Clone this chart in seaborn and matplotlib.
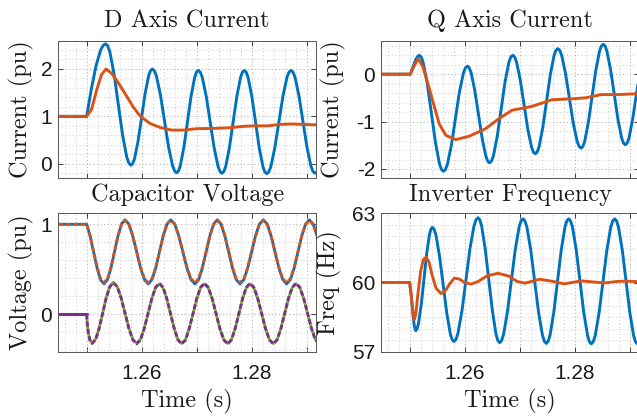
import matplotlib
matplotlib.use("Agg")
import matplotlib.pyplot as plt
import seaborn as sns
import numpy as np
from matplotlib.ticker import FixedLocator, FixedFormatter, MultipleLocator

# ------------------------------------------------------------------ data
T_MIN, T_MAX = 1.24484, 1.29169
x_tick_pos = [1.25, 1.26, 1.27, 1.28, 1.29]
x_tick_labels = ["", "1.26", "", "1.28", ""]

titles = ["D Axis Current", "Q Axis Current", "Capacitor Voltage", "Inverter Frequency"]
ylabels = ["Current (pu)", "Current (pu)", "Voltage (pu)", "Freq (Hz)"]
xlabel = "Time (s)"

d_yticks, d_yticklabels = [0, 1, 2], ["0", "1", "2"]
q_yticks, q_yticklabels = [-2, -1, 0], ["-2", "-1", "0"]
v_yticks, v_yticklabels = [0, 1], ["0", "1"]
f_yticks, f_yticklabels = [57, 60, 63], ["57", "60", "63"]

# D axis current
d_blue_t = [1.24484, 1.25000, 1.25086, 1.25173, 1.25259, 1.25302,
            1.25345, 1.25383, 1.25422, 1.25498, 1.25575, 1.25652, 1.25728, 1.25767,
            1.25805, 1.25837, 1.25870, 1.25934, 1.25999, 1.26064, 1.26128, 1.26161,
            1.26193, 1.26230, 1.26267, 1.26341, 1.26415, 1.26488, 1.26562, 1.26599,
            1.26636, 1.26669, 1.26702, 1.26767, 1.26833, 1.26898, 1.26964, 1.26996,
            1.27029, 1.27065, 1.27101, 1.27173, 1.27245, 1.27316, 1.27388, 1.27424,
            1.27460, 1.27494, 1.27528, 1.27595, 1.27663, 1.27731, 1.27798, 1.27832,
            1.27866, 1.27900, 1.27934, 1.28002, 1.28070, 1.28137, 1.28205, 1.28239,
            1.28273, 1.28310, 1.28347, 1.28420, 1.28494, 1.28568, 1.28641, 1.28678,
            1.28715, 1.28751, 1.28788, 1.28860, 1.28933, 1.29006, 1.29078, 1.29115,
            1.29151, 1.29200]
d_blue_v = [1.00, 1.00, 1.586, 2.082, 2.414, 2.50,
            2.53, 2.486, 2.358, 1.89, 1.25, 0.61, 0.142, 0.014,
            -0.03, 0.005, 0.106, 0.478, 0.985, 1.493, 1.864, 1.965,
            2.00, 1.963, 1.853, 1.453, 0.905, 0.358, -0.043, -0.153,
            -0.19, -0.153, -0.045, 0.35, 0.89, 1.43, 1.825, 1.933,
            1.97, 1.933, 1.825, 1.428, 0.885, 0.343, -0.055, -0.163,
            -0.20, -0.163, -0.055, 0.343, 0.885, 1.428, 1.825, 1.933,
            1.97, 1.933, 1.824, 1.425, 0.88, 0.335, -0.064, -0.173,
            -0.21, -0.173, -0.064, 0.335, 0.88, 1.425, 1.824, 1.933,
            1.97, 1.933, 1.825, 1.428, 0.885, 0.343, -0.055, -0.163,
            -0.20, -0.17]
d_red_t = [1.24484, 1.2500, 1.2509, 1.2518, 1.2527, 1.2535,
           1.2545, 1.2555, 1.2565, 1.2575, 1.2585,
           1.2597, 1.2615, 1.2635, 1.2655, 1.2675,
           1.2700, 1.2730, 1.2760, 1.2785, 1.2805,
           1.2830, 1.2850, 1.2872, 1.2895, 1.2920]
d_red_v = [1.00, 1.00, 1.15, 1.55, 1.88, 2.00,
           1.91, 1.75, 1.57, 1.38, 1.19,
           1.01, 0.85, 0.76, 0.71, 0.71,
           0.74, 0.745, 0.76, 0.79, 0.80,
           0.80, 0.83, 0.84, 0.83, 0.82]

# Q axis current
q_blue_t = [1.24484, 1.2501, 1.2506, 1.2511, 1.2515,
            1.25175, 1.25212, 1.25248, 1.25321, 1.25395, 1.25468, 1.25541, 1.25577,
            1.25614, 1.25650, 1.25686, 1.25759, 1.25831, 1.25903, 1.25976, 1.26012,
            1.26048, 1.26082, 1.26116, 1.26183, 1.26251, 1.26318, 1.26386, 1.26419,
            1.26453, 1.26488, 1.26523, 1.26593, 1.26663, 1.26733, 1.26803, 1.26838,
            1.26873, 1.26907, 1.26942, 1.27010, 1.27079, 1.27147, 1.27216, 1.27250,
            1.27284, 1.27318, 1.27352, 1.27420, 1.27488, 1.27556, 1.27624, 1.27658,
            1.27692, 1.27727, 1.27763, 1.27833, 1.27904, 1.27974, 1.28045, 1.28080,
            1.28115, 1.28149, 1.28182, 1.28249, 1.28317, 1.28384, 1.28451, 1.28484,
            1.28518, 1.28552, 1.28585, 1.28652, 1.28720, 1.28787, 1.28854, 1.28887,
            1.28921, 1.28955, 1.28988, 1.29055, 1.29122, 1.29180]
q_blue_v = [0.0, 0.0, 0.15, 0.31, 0.38,
            0.40, 0.358, 0.236, -0.213, -0.825, -1.438, -1.886, -2.008,
            -2.05, -2.012, -1.901, -1.495, -0.94, -0.385, 0.021, 0.132,
            0.17, 0.135, 0.033, -0.34, -0.85, -1.36, -1.733, -1.835,
            -1.87, -1.831, -1.718, -1.303, -0.735, -0.168, 0.248, 0.361,
            0.40, 0.365, 0.261, -0.12, -0.64, -1.16, -1.541, -1.645,
            -1.68, -1.642, -1.531, -1.125, -0.57, -0.015, 0.391, 0.502,
            0.54, 0.504, 0.399, 0.015, -0.51, -1.035, -1.419, -1.524,
            -1.56, -1.523, -1.413, -1.013, -0.465, 0.083, 0.483, 0.593,
            0.63, 0.594, 0.488, 0.10, -0.43, -0.96, -1.348, -1.454,
            -1.49, -1.452, -1.343, -0.94, -0.42, 0.0]
q_red_t = [1.24484, 1.2501, 1.2508, 1.25157, 1.25242, 1.25332, 1.25416,
           1.25537, 1.25658, 1.25838, 1.26079, 1.26380, 1.26621, 1.26861,
           1.27222, 1.27584, 1.27945, 1.28190, 1.28487, 1.28790, 1.29180]
q_red_v = [0.0, 0.0, 0.17, 0.33, 0.15, -0.20, -0.55,
           -1.05, -1.29, -1.38, -1.31, -1.15, -0.94, -0.76,
           -0.68, -0.54, -0.52, -0.50, -0.43, -0.43, -0.41]

# Capacitor voltage (blue solid / orange dashed share times)
cv_t1 = [1.24484, 1.25000, 1.25063, 1.25126, 1.25189, 1.25252,
         1.25315, 1.25379, 1.25442, 1.25506, 1.25569, 1.25633,
         1.25696, 1.25767, 1.25837, 1.25908, 1.25979, 1.26049,
         1.26120, 1.26188, 1.26256, 1.26324, 1.26391, 1.26459,
         1.26527, 1.26601, 1.26674, 1.26748, 1.26822, 1.26895,
         1.26969, 1.27037, 1.27104, 1.27172, 1.27240, 1.27307,
         1.27375, 1.27444, 1.27512, 1.27581, 1.27650, 1.27718,
         1.27787, 1.27858, 1.27928, 1.27999, 1.28070, 1.28140,
         1.28211, 1.28282, 1.28352, 1.28423, 1.28494, 1.28564,
         1.28635, 1.28704, 1.28773, 1.28842, 1.28910, 1.28979,
         1.29048, 1.29118, 1.29188]
cv_blue_v = [1.0, 1.0, 0.868, 0.69, 0.513, 0.383,
             0.337, 0.385, 0.515, 0.694, 0.872, 1.002,
             1.05, 1.002, 0.872, 0.694, 0.515, 0.385,
             0.337, 0.385, 0.515, 0.694, 0.872, 1.002,
             1.05, 1.002, 0.872, 0.694, 0.515, 0.385,
             0.337, 0.385, 0.515, 0.694, 0.872, 1.002,
             1.05, 1.002, 0.872, 0.694, 0.515, 0.385,
             0.337, 0.385, 0.515, 0.694, 0.872, 1.002,
             1.05, 1.002, 0.872, 0.694, 0.515, 0.385,
             0.337, 0.385, 0.515, 0.694, 0.872, 1.002,
             1.05, 1.002, 0.872]
cv_orange_v = [1.0, 1.0, 0.87, 0.698, 0.525, 0.395,
               0.35, 0.397, 0.524, 0.698, 0.871, 0.998,
               1.045, 0.998, 0.871, 0.698, 0.524, 0.397,
               0.35, 0.397, 0.524, 0.698, 0.871, 0.998,
               1.045, 0.998, 0.871, 0.698, 0.524, 0.397,
               0.35, 0.397, 0.524, 0.698, 0.871, 0.998,
               1.045, 0.998, 0.871, 0.698, 0.524, 0.397,
               0.35, 0.397, 0.524, 0.698, 0.871, 0.998,
               1.045, 0.998, 0.871, 0.698, 0.524, 0.397,
               0.35, 0.397, 0.524, 0.698, 0.871, 0.998,
               1.045, 0.998, 0.871]
# (green solid / purple dashed share times)
cv_t2 = [1.24484, 1.25000, 1.25010, 1.25030, 1.25060,
         1.25100, 1.25164, 1.25228, 1.25292, 1.25356, 1.25420,
         1.25484, 1.25555, 1.25626, 1.25696, 1.25767, 1.25838,
         1.25909, 1.25978, 1.26046, 1.26115, 1.26184, 1.26252,
         1.26321, 1.26389, 1.26456, 1.26524, 1.26592, 1.26659,
         1.26727, 1.26796, 1.26864, 1.26933, 1.27002, 1.27070,
         1.27139, 1.27210, 1.27281, 1.27352, 1.27422, 1.27493,
         1.27564, 1.27632, 1.27699, 1.27767, 1.27834, 1.27902,
         1.27969, 1.28040, 1.28110, 1.28181, 1.28252, 1.28322,
         1.28393, 1.28462, 1.28530, 1.28599, 1.28668, 1.28736,
         1.28805, 1.28876, 1.28946, 1.29017, 1.29088, 1.29158,
         1.29229]
cv_green_v = [0.0, 0.0, -0.10, -0.21, -0.285,
              -0.32, -0.275, -0.151, 0.018, 0.186, 0.310,
              0.355, 0.310, 0.186, 0.017, -0.153, -0.277,
              -0.322, -0.278, -0.157, 0.008, 0.172, 0.293,
              0.337, 0.293, 0.172, 0.006, -0.159, -0.281,
              -0.325, -0.281, -0.159, 0.006, 0.172, 0.293,
              0.337, 0.293, 0.172, 0.006, -0.159, -0.281,
              -0.325, -0.281, -0.159, 0.006, 0.172, 0.293,
              0.337, 0.293, 0.172, 0.006, -0.159, -0.281,
              -0.325, -0.281, -0.159, 0.006, 0.172, 0.293,
              0.337, 0.293, 0.172, 0.006, -0.159, -0.281,
              -0.325]
cv_purple_v = [0.0, 0.0, -0.10, -0.21, -0.29,
               -0.325, -0.28, -0.155, 0.015, 0.185, 0.305,
               0.35, 0.305, 0.18, 0.012, -0.158, -0.283,
               -0.33, -0.285, -0.161, 0.008, 0.176, 0.300,
               0.345, 0.300, 0.176, 0.008, -0.161, -0.285,
               -0.33, -0.285, -0.161, 0.008, 0.176, 0.300,
               0.345, 0.300, 0.176, 0.008, -0.161, -0.285,
               -0.33, -0.285, -0.161, 0.008, 0.176, 0.300,
               0.345, 0.300, 0.176, 0.008, -0.161, -0.285,
               -0.33, -0.285, -0.161, 0.008, 0.176, 0.300,
               0.345, 0.300, 0.176, 0.008, -0.161, -0.285,
               -0.33]

# Inverter frequency
f_blue_t = [1.24484, 1.25000, 1.25027, 1.25055, 1.25082,
            1.25109, 1.25134, 1.25159, 1.25210, 1.25260, 1.25310, 1.25361, 1.25386,
            1.25411, 1.25444, 1.25477, 1.25542, 1.25608, 1.25674, 1.25739, 1.25772,
            1.25805, 1.25841, 1.25878, 1.25951, 1.26024, 1.26096, 1.26169, 1.26206,
            1.26242, 1.26275, 1.26308, 1.26373, 1.26439, 1.26505, 1.26570, 1.26603,
            1.26636, 1.26671, 1.26707, 1.26777, 1.26848, 1.26919, 1.26989, 1.27025,
            1.27060, 1.27095, 1.27131, 1.27201, 1.27272, 1.27343, 1.27413, 1.27449,
            1.27484, 1.27518, 1.27552, 1.27620, 1.27688, 1.27755, 1.27823, 1.27857,
            1.27891, 1.27925, 1.27960, 1.28028, 1.28097, 1.28165, 1.28234, 1.28268,
            1.28302, 1.28337, 1.28373, 1.28444, 1.28515, 1.28585, 1.28656, 1.28692,
            1.28727, 1.28761, 1.28796, 1.28865, 1.28934, 1.29002, 1.29071, 1.29106,
            1.29140, 1.29200]
f_blue_v = [60.0, 60.0, 59.45, 58.7, 58.15,
            57.91, 57.99, 58.21, 59.03, 60.15, 61.27, 62.09, 62.31,
            62.39, 62.31, 62.06, 61.15, 59.92, 58.68, 57.77, 57.52,
            57.44, 57.53, 57.80, 58.78, 60.13, 61.47, 62.45, 62.72,
            62.81, 62.72, 62.45, 61.46, 60.10, 58.75, 57.75, 57.48,
            57.39, 57.48, 57.75, 58.73, 60.08, 61.42, 62.40, 62.67,
            62.76, 62.67, 62.40, 61.41, 60.06, 58.71, 57.72, 57.45,
            57.36, 57.45, 57.72, 58.71, 60.06, 61.41, 62.40, 62.67,
            62.76, 62.67, 62.40, 61.41, 60.05, 58.70, 57.70, 57.43,
            57.34, 57.43, 57.70, 58.70, 60.05, 61.41, 62.40, 62.67,
            62.76, 62.67, 62.40, 61.41, 60.05, 58.70, 57.70, 57.43,
            57.34, 57.40]
f_red_t = [1.24484, 1.2500, 1.25035, 1.25065, 1.25084,
           1.2511, 1.2515, 1.2520, 1.2525, 1.25296,
           1.2535, 1.2541, 1.2548, 1.25569, 1.2565,
           1.2573, 1.25811, 1.2590, 1.2600, 1.26115,
           1.2625, 1.2640, 1.26605, 1.2680, 1.2695,
           1.27091, 1.2722, 1.27364, 1.2760, 1.27811,
           1.2800, 1.28115, 1.2835, 1.2855, 1.2875,
           1.2893, 1.2920]
f_red_v = [60.0, 60.0, 59.3, 58.6, 58.4,
           58.6, 59.5, 60.5, 61.0, 61.09,
           60.9, 60.3, 59.75, 59.52, 59.65,
           59.95, 60.19, 60.15, 60.0, 59.93,
           60.05, 60.28, 60.40, 60.28, 60.05,
           59.97, 60.05, 60.14, 60.05, 59.94,
           60.02, 60.07, 60.02, 59.98, 60.04,
           60.06, 60.03]

# ------------------------------------------------------------------ style
sns.set_theme(style="white")
plt.rcParams['font.family'] = ['Liberation Sans', 'DejaVu Sans']
plt.rcParams['axes.unicode_minus'] = False

SERIF = ['cmr10', 'DejaVu Serif']
TXT = '#1a1a1a'
C_BLUE, C_ORANGE, C_GREEN, C_PURPLE = '#0072BD', '#D95319', '#77AC30', '#7E2F8E'
SERIF_SIZE = 17.5
TICK_SIZE = 15
DASH = (1.8, 0.85)

W, H = 637.0, 418.0
fig = plt.figure(figsize=(W / 100, H / 100), dpi=100)
fig.patch.set_facecolor('white')


def px_axes(l, t, r, b):
    return fig.add_axes([l / W, 1 - b / H, (r - l) / W, (b - t) / H])


ax_d = px_axes(58.3, 41.0, 316.0, 178.0)
ax_q = px_axes(381.3, 41.0, 639.0, 178.0)
ax_v = px_axes(58.3, 213.3, 316.0, 351.7)
ax_f = px_axes(381.3, 213.3, 639.0, 351.7)


def line(ax, t, v, color, lw=2.1, dash=None):
    sns.lineplot(x=np.asarray(t, float), y=np.asarray(v, float), ax=ax, color=color,
                 linewidth=lw, estimator=None, sort=True, legend=False)
    ln = ax.lines[-1]
    if dash is not None:
        ln.set_dashes(dash)
    return ln


def style(ax, ylim, yticks, yticklabels, yminor, show_x, title, ylabel, ylab_x, title_y):
    ax.set_xlim(T_MIN, T_MAX)
    ax.set_ylim(*ylim)
    ax.xaxis.set_major_locator(FixedLocator(x_tick_pos))
    ax.xaxis.set_major_formatter(FixedFormatter(x_tick_labels if show_x else [""] * len(x_tick_pos)))
    ax.xaxis.set_minor_locator(MultipleLocator(0.002))
    ax.yaxis.set_major_locator(FixedLocator(yticks))
    ax.yaxis.set_major_formatter(FixedFormatter(yticklabels))
    ax.yaxis.set_minor_locator(MultipleLocator(yminor))
    ax.set_axisbelow(True)
    ax.grid(True, which='major', linestyle=(0, (1.2, 2.4)), color='#b5b5b5', linewidth=0.7)
    ax.grid(True, which='minor', linestyle=(0, (1.2, 2.4)), color='#d2d2d2', linewidth=0.7)
    ax.tick_params(which='major', direction='in', length=3.5, width=0.7, color='#404040',
                   top=True, right=True, bottom=True, left=True,
                   labelsize=TICK_SIZE, labelcolor=TXT)
    ax.tick_params(axis='x', which='major', pad=9.0)
    ax.tick_params(axis='y', which='major', pad=4.5)
    ax.tick_params(which='minor', length=0)
    for s in ax.spines.values():
        s.set_visible(True)
        s.set_color('#555555')
        s.set_linewidth(0.7)
    ax.set_title(title, family=SERIF, fontsize=SERIF_SIZE, color=TXT, y=title_y, pad=0,
                 va='baseline')
    ax.set_ylabel(ylabel, family=SERIF, fontsize=SERIF_SIZE, color=TXT)
    ax.yaxis.set_label_coords(ylab_x, 0.5)
    if show_x:
        ax.set_xlabel(xlabel, family=SERIF, fontsize=SERIF_SIZE, color=TXT)
        ax.xaxis.set_label_coords(0.5, -0.268)
    else:
        ax.set_xlabel("")


# D axis
line(ax_d, d_blue_t, d_blue_v, C_BLUE)
line(ax_d, d_red_t, d_red_v, C_ORANGE)
style(ax_d, (-0.30, 2.59), d_yticks, d_yticklabels, 0.2, False,
      titles[0], ylabels[0], -0.096, 1.100)

# Q axis
line(ax_q, q_blue_t, q_blue_v, C_BLUE)
line(ax_q, q_red_t, q_red_v, C_ORANGE)
style(ax_q, (-2.19, 0.70), q_yticks, q_yticklabels, 0.2, False,
      titles[1], ylabels[1], -0.136, 1.102)

# Capacitor voltage
line(ax_v, cv_t1, cv_blue_v, C_BLUE, lw=2.0)
line(ax_v, cv_t1, cv_orange_v, C_ORANGE, lw=2.0, dash=DASH)
line(ax_v, cv_t2[1:], cv_green_v[1:], C_GREEN, lw=2.0)
line(ax_v, cv_t2[1:], cv_purple_v[1:], C_PURPLE, lw=2.0, dash=DASH)
line(ax_v, cv_t2[:2], cv_purple_v[:2], C_PURPLE, lw=2.2)   # steady-state part drawn solid
style(ax_v, (-0.416, 1.122), v_yticks, v_yticklabels, 0.2, True,
      titles[2], ylabels[2], -0.094, 1.092)

# Inverter frequency
line(ax_f, f_blue_t, f_blue_v, C_BLUE)
line(ax_f, f_red_t, f_red_v, C_ORANGE)
style(ax_f, (57, 63), f_yticks, f_yticklabels, 0.5, True,
      titles[3], ylabels[3], -0.153, 1.090)

fig.savefig("out.png", dpi=100, facecolor='white')
